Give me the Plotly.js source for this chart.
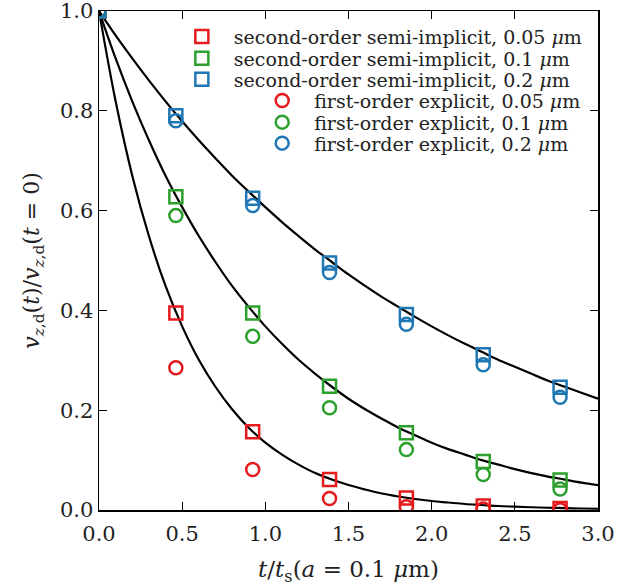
<!DOCTYPE html>
<html>
<head>
<meta charset="utf-8">
<script src="https://cdn.plot.ly/plotly-3.0.1.min.js"></script>
<style>html,body{margin:0;padding:0;background:#fff;}#plot{width:631px;height:588px;}</style>
</head>
<body>
<div id="plot"></div>
<script>
// sample times (simulation output)
var tPts = [0, 0.462, 0.924, 1.386, 1.848, 2.31, 2.772];
// second-order semi-implicit
var sq005 = [1, 0.395, 0.157, 0.061, 0.024, 0.008, 0.003];
var sq01  = [1, 0.628, 0.395, 0.248, 0.155, 0.097, 0.060];
var sq02  = [1, 0.790, 0.625, 0.495, 0.392, 0.311, 0.246];
// first-order explicit
var ci005 = [1, 0.285, 0.081, 0.023, 0.0066, 0.0019, 0.0005];
var ci01  = [1, 0.590, 0.348, 0.205, 0.121, 0.071, 0.042];
var ci02  = [1, 0.780, 0.610, 0.476, 0.372, 0.291, 0.226];
// analytic reference curves
var tLine = [0,0.1,0.2,0.3,0.4,0.5,0.6,0.7,0.8,0.9,1.0,1.1,1.2,1.3,1.4,1.5,1.6,1.7,1.8,1.9,2.0,2.1,2.2,2.3,2.4,2.5,2.6,2.7,2.8,2.9,3.0];
var line005 = [1,0.819,0.670,0.549,0.449,0.368,0.301,0.247,0.202,0.165,0.135,0.111,0.091,0.074,0.061,0.050,0.041,0.033,0.027,0.022,0.018,0.015,0.012,0.010,0.008,0.0067,0.0055,0.0045,0.0037,0.0030,0.0025];
var line01  = [1,0.905,0.819,0.741,0.670,0.607,0.549,0.497,0.449,0.407,0.368,0.333,0.301,0.273,0.247,0.223,0.202,0.183,0.165,0.150,0.135,0.122,0.111,0.100,0.091,0.082,0.074,0.067,0.061,0.055,0.050];
var line02  = [1,0.951,0.905,0.861,0.819,0.779,0.741,0.705,0.670,0.638,0.607,0.577,0.549,0.522,0.497,0.472,0.449,0.427,0.407,0.387,0.368,0.350,0.333,0.317,0.301,0.287,0.273,0.259,0.247,0.235,0.223];
var xTicks = [0,0.5,1,1.5,2,2.5,3];
var xTickText = ['0.0','0.5','1.0','1.5','2.0','2.5','3.0'];
var yTicks = [0,0.2,0.4,0.6,0.8,1.0];
var yTickText = ['0.0','0.2','0.4','0.6','0.8','1.0'];

var sqNames = ['second-order semi-implicit, 0.05 <i>μ</i>m','second-order semi-implicit, 0.1 <i>μ</i>m','second-order semi-implicit, 0.2 <i>μ</i>m'];
var ciNames = ['first-order explicit, 0.05 <i>μ</i>m','first-order explicit, 0.1 <i>μ</i>m','first-order explicit, 0.2 <i>μ</i>m'];
var colors = ['#e41a1c','#2ca02c','#1f77b4'];

var FONT = "'DejaVu Serif', serif";
var LEGFONT = 19;
var traces = [];
[line005, line01, line02].forEach(function(ys){
  traces.push({x:tLine, y:ys, mode:'lines', line:{color:'#000', width:2.2, shape:'spline'}, showlegend:false, hoverinfo:'skip'});
});
[sq005, sq01, sq02].forEach(function(ys,i){
  traces.push({x:tPts, y:ys, mode:'markers', name:sqNames[i], legend:(i===0?'legend':'legend'+(i+1)), cliponaxis:true,
    marker:{symbol:'square-open', size:13, color:colors[i], line:{width:2.5, color:colors[i]}}});
});
[ci005, ci01, ci02].forEach(function(ys,i){
  traces.push({x:tPts, y:ys, mode:'markers', name:ciNames[i], legend:'legend'+(i+4), cliponaxis:true,
    marker:{symbol:'circle-open', size:13, color:colors[i], line:{width:2.5, color:colors[i]}}});
});

var axisCommon = {showgrid:false, zeroline:false, showline:true, linecolor:'#000', linewidth:1.5, mirror:'ticks',
  ticks:'inside', ticklen:8, tickwidth:1.3, tickcolor:'#000', ticklabeloverflow:'allow',
  tickfont:{family:FONT, size:21, color:'#222'}};

function leg(x, y){
  return {x:x, y:y, xanchor:'left', yanchor:'middle', bgcolor:'rgba(0,0,0,0)', borderwidth:0,
    font:{family:FONT, size:LEGFONT, color:'#222'}, tracegroupgap:0, itemwidth:54};
}

var layout = {
  width:631, height:588,
  margin:{l:99, r:33, t:11, b:78},
  paper_bgcolor:'#fff', plot_bgcolor:'#fff',
  font:{family:FONT, color:'#222'},
  xaxis: Object.assign({}, axisCommon, {range:[0,3], tickvals:xTicks, ticktext:xTickText, ticklabelstandoff:4,
    title:{text:'<i>t</i>/<i>t</i><sub>s</sub>(<i>a</i> = 0.1 <i>μ</i>m)', font:{family:FONT, size:23, color:'#222'}, standoff:16}}),
  yaxis: Object.assign({}, axisCommon, {range:[0,1], tickvals:yTicks, ticktext:yTickText,
    title:{text:'<i>v</i><sub><i>z</i>,d</sub>(<i>t</i>)/<i>v</i><sub><i>z</i>,d</sub>(<i>t</i> = 0)', font:{family:FONT, size:22, color:'#222'}, standoff:14}}),
  legend:  leg(0.142, 0.9485),
  legend2: leg(0.142, 0.9052),
  legend3: leg(0.142, 0.8631),
  legend4: leg(0.303, 0.8202),
  legend5: leg(0.303, 0.7770),
  legend6: leg(0.303, 0.7349),
  showlegend:true
};

Plotly.newPlot('plot', traces, layout, {displayModeBar:false, staticPlot:true});
</script>
</body>
</html>
